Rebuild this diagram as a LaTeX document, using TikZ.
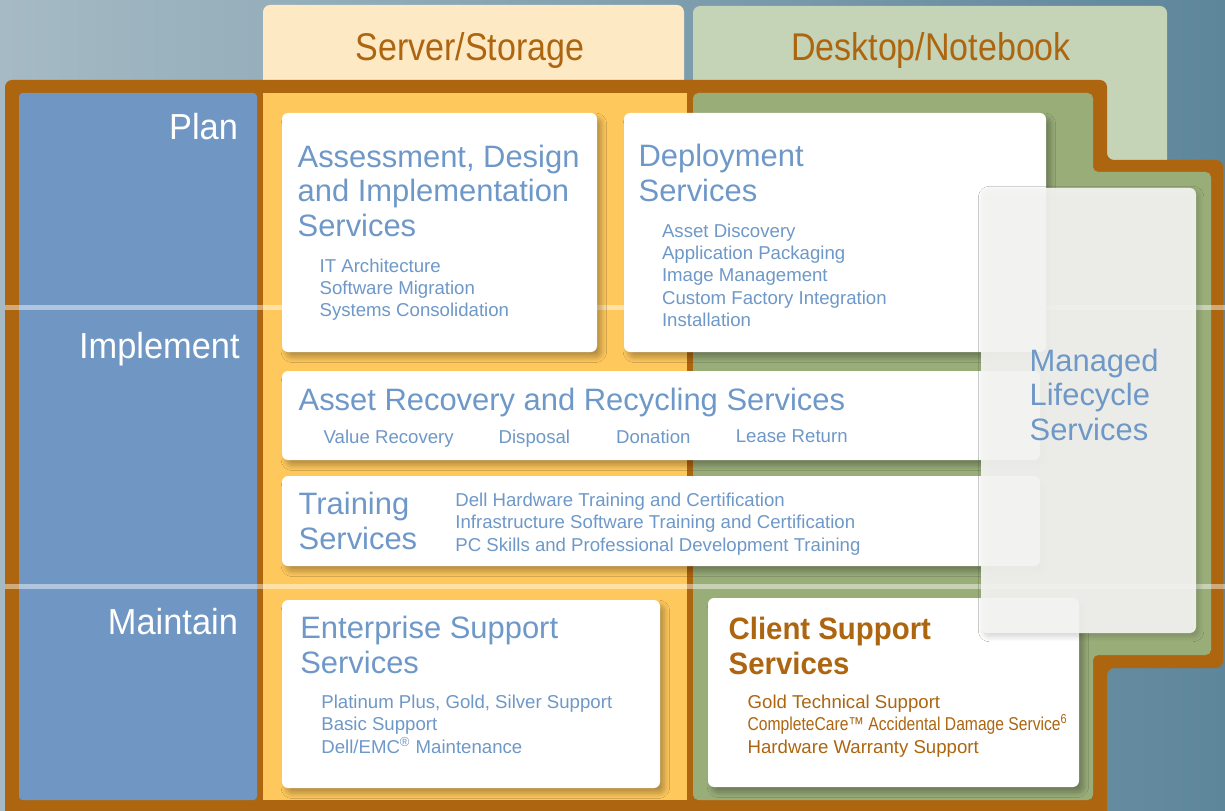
\documentclass[tikz,border=0pt]{standalone}
\usepackage{fontspec}
\setmainfont{Liberation Sans}
\newfontfamily\condfont[FakeStretch=0.88]{Liberation Sans}
\newfontfamily\phasefont[FakeStretch=0.95]{Liberation Sans}
\newfontfamily\narrowfont[FakeStretch=0.84]{Liberation Sans}
\usetikzlibrary{shadows.blur}

\definecolor{bgleft}{HTML}{A5BAC4}
\definecolor{bgright}{HTML}{5E869B}
\definecolor{frameorange}{HTML}{AD650F}
\definecolor{phaseblue}{HTML}{7097C4}
\definecolor{serveryellow}{HTML}{FFC85C}
\definecolor{desktopgreen}{HTML}{99AD79}
\definecolor{servertab}{HTML}{FEE9C5}
\definecolor{desktoptab}{HTML}{C5D3B7}
\definecolor{cardblue}{HTML}{6E98C8}
\definecolor{cardbrown}{HTML}{AD650F}
\definecolor{lifecycle}{HTML}{F5F5F3}

\tikzset{
  card/.style={fill=white, rounded corners=3.5pt,
    blur shadow={shadow xshift=2.5pt, shadow yshift=-3pt, shadow blur radius=3pt, shadow blur steps=12, shadow blur extra rounding=0pt, shadow opacity=30}},
  phase/.style={anchor=north east, inner sep=0pt, text=white, font=\phasefont\fontsize{20.6}{22}\selectfont},
  tabtext/.style={anchor=north, inner sep=0pt, text=cardbrown, font=\condfont\fontsize{22}{24}\selectfont},
  cardtitle/.style={anchor=north west, inner sep=0pt, align=left, text=cardblue, font=\fontsize{17.6}{19.8}\selectfont},
  carditems/.style={anchor=north west, inner sep=0pt, align=left, text=cardblue, font=\fontsize{10.6}{12.75}\selectfont},
  divider/.style={white, opacity=0.45, line width=0.1cm}
}

\begin{document}
\begin{tikzpicture}[x=0.02cm, y=-0.02cm]
    \useasboundingbox (0,0) rectangle (1225,811);
    % background
    \shade[left color=bgleft, right color=bgright] (0,0) rectangle (1225,811);
    % column tabs
    \fill[servertab, rounded corners=4pt] (263,5) rectangle (684,100);
    \fill[desktoptab, rounded corners=4pt] (693,6) rectangle (1167,180);
    \node[tabtext] (server) at (470,32.3) {Server/Storage};
    \node[tabtext] (desktop) at (931,32.5) {Desktop/Notebook};
    % frame and panels
    \fill[frameorange, rounded corners=4pt] (5,80) -- (1107,80) -- (1107,160) -- (1223,160) -- (1223,668) -- (1107,668) -- (1107,830) -- (5,830) -- cycle;
    \fill[phaseblue, rounded corners=2pt] (19,93) rectangle (257,800);
    \fill[serveryellow] (263,93) rectangle (687,800);
    \fill[desktopgreen, rounded corners=3pt] (693,93) -- (1093,93) -- (1093,172) -- (1211,172) -- (1211,655) -- (1093,655) -- (1093,800) -- (693,800) -- cycle;
    \draw[divider] (5,307.5) -- (1225,307.5);
    \draw[divider] (5,586) -- (1225,586);
    % phases
    \node[phase] (plan) at (238.3,113.3) {Plan};
    \node[phase] (implement) at (240,332) {Implement};
    \node[phase] (maintain) at (238.3,608.3) {Maintain};
    % assessment
    \fill[card] (282,113) rectangle (597,352);
    \node[cardtitle] (assesstitle) at (297.3,144.3) {Assessment, Design\\and Implementation\\Services};
    \node[carditems] (assessitems) at (319.3,258.3) {IT Architecture\\Software Migration\\Systems Consolidation};
    % deployment
    \fill[card] (624,113) rectangle (1046,352);
    \node[cardtitle] (deploytitle) at (638.3,144) {Deployment\\Services};
    \node[carditems] (deployitems) at (661.7,223.3) {Asset Discovery\\Application Packaging\\Image Management\\Custom Factory Integration\\Installation};
    % asset recovery
    \fill[card] (282,371) rectangle (1040,460);
    \node[cardtitle] (recoverytitle) at (298.3,387.3) {Asset Recovery and Recycling Services};
    \node[carditems] (valuerecovery) at (323.3,429.3) {Value Recovery};
    \node[carditems] (disposal) at (498.3,429.3) {Disposal};
    \node[carditems] (donation) at (615.7,429.3) {Donation};
    \node[carditems] (leasereturn) at (735.5,429.3) {Lease Return};
    % training
    \fill[card] (282,476) rectangle (1040,566);
    \node[cardtitle] (trainingtitle) at (298.3,491.7) {Training\\Services};
    \node[carditems] (trainingitems) at (455,492.7) {Dell Hardware Training and Certification\\Infrastructure Software Training and Certification\\PC Skills and Professional Development Training};
    % enterprise support
    \fill[card] (282,600) rectangle (660,788);
    \node[cardtitle] (enterprisetitle) at (300,616) {Enterprise Support\\Services};
    \node[carditems] (enterpriseitems) at (321,694.4) {Platinum Plus, Gold, Silver Support\\Basic Support\\Dell/EMC\textsuperscript{®} Maintenance};
    % client support
    \fill[card] (708,598) rectangle (1079,787);
    \node[cardtitle, text=cardbrown, font=\phasefont\bfseries\fontsize{17.6}{19.8}\selectfont] (clienttitle) at (728.3,616.7) {Client Support\\Services};
    \node[carditems, text=cardbrown] (clientitems) at (747.3,694.4) {Gold Technical Support\\{\narrowfont CompleteCare™ Accidental Damage Service\textsuperscript{6}}\\Hardware Warranty Support};
    % managed lifecycle
    \fill[lifecycle, fill opacity=0.92, rounded corners=3.5pt, blur shadow={shadow xshift=1.5pt, shadow yshift=-2pt, shadow blur radius=3pt, shadow blur steps=12, shadow blur extra rounding=0pt, shadow opacity=18}] (981,188) rectangle (1196,633);
    \node[cardtitle, font=\fontsize{17.6}{19.7}\selectfont] (lifecycletitle) at (1029.3,348.3) {Managed\\Lifecycle\\Services};
\end{tikzpicture}
\end{document}
